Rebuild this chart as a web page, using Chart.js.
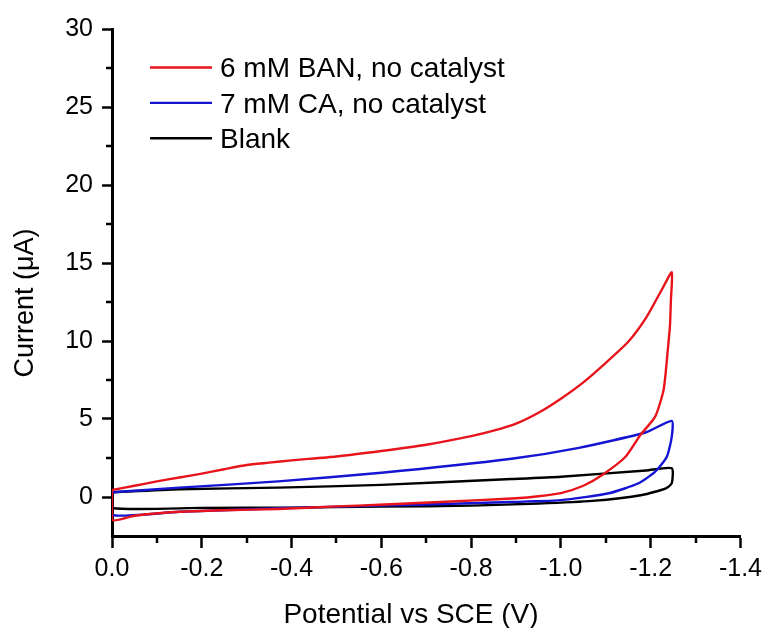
<!DOCTYPE html>
<html><head><meta charset="utf-8">
<script src="https://cdn.jsdelivr.net/npm/chart.js@4"></script>
<style>html,body{margin:0;padding:0;background:#fff}canvas{display:block}</style>
</head><body>
<canvas id="c" width="768" height="628"></canvas>
<script>
// ---- data ----
const seriesNames = ['6 mM BAN, no catalyst', '7 mM CA, no catalyst', 'Blank'];
const seriesColors = ['#e8141c', '#1414d2', '#000000'];

const banX = [0, -0.05, -0.1, -0.15, -0.2, -0.25, -0.3, -0.35, -0.4, -0.5, -0.6, -0.7, -0.8, -0.85, -0.9, -0.95, -1.0, -1.05, -1.1, -1.15, -1.19, -1.225, -1.247,
              -1.245, -1.243, -1.238, -1.229, -1.21, -1.177, -1.144, -1.092, -1.05, -1.0, -0.95, -0.9, -0.818, -0.67, -0.596, -0.5, -0.37, -0.25, -0.15, -0.05, 0, 0];
const banY = [0.45, 0.72, 1.0, 1.25, 1.5, 1.78, 2.05, 2.2, 2.35, 2.6, 2.95, 3.35, 3.9, 4.25, 4.7, 5.4, 6.3, 7.35, 8.6, 9.95, 11.5, 13.3, 14.4,
              12.6, 11.0, 9.4, 6.9, 5.15, 3.97, 2.58, 1.41, 0.72, 0.25, 0.05, -0.08, -0.2, -0.4, -0.5, -0.6, -0.77, -0.85, -0.95, -1.2, -1.47, 0.45];

const caX = [0, -0.15, -0.37, -0.6, -0.89, -1.04, -1.19, -1.247,
             -1.247, -1.236, -1.21, -1.173, -1.107, -1.0, -0.85, -0.74, -0.6, -0.37, -0.15, 0, 0];
const caY = [0.3, 0.6, 1.0, 1.55, 2.45, 3.15, 4.15, 4.88,
             3.87, 2.58, 1.62, 0.88, 0.24, -0.2, -0.35, -0.45, -0.55, -0.72, -0.95, -1.15, 0.3];

const blankX = [0, -0.15, -0.37, -0.6, -0.89, -1.0, -1.19, -1.247,
                -1.247, -1.234, -1.181, -1.07, -0.95, -0.8, -0.6, -0.4, -0.2, 0, 0];
const blankY = [0.3, 0.5, 0.6, 0.78, 1.15, 1.3, 1.7, 1.84,
                0.88, 0.56, 0.13, -0.25, -0.42, -0.55, -0.62, -0.68, -0.7, -0.7, 0.3];

const xMajorTicks = [0, -0.2, -0.4, -0.6, -0.8, -1.0, -1.2, -1.4];
const xMinorTicks = [-0.1, -0.3, -0.5, -0.7, -0.9, -1.1, -1.3];
const yMajorTicks = [0, 5, 10, 15, 20, 25, 30];
const yMinorTicks = [2.5, 7.5, 12.5, 17.5, 22.5, 27.5];
const xTitle = 'Potential vs SCE (V)';
const yTitle = 'Current (μA)';

// ---- build ----
function pts(xs, ys) { return xs.map((x, i) => ({ x: x, y: ys[i] })); }
const allX = [banX, caX, blankX], allY = [banY, caY, blankY];
const datasets = seriesNames.map((n, i) => ({
  label: n,
  data: pts(allX[i], allY[i]),
  borderColor: seriesColors[i],
  backgroundColor: seriesColors[i],
  borderWidth: 2.4,
  showLine: true,
  pointRadius: 0,
  tension: 0.2,
  fill: false
}));

const FONT = '"Liberation Sans", Arial, sans-serif';

const extras = {
  id: 'extras',
  afterDraw(chart) {
    const ctx = chart.ctx, xs = chart.scales.x, ys = chart.scales.y, ca = chart.chartArea;
    ctx.save();
    ctx.strokeStyle = '#000';
    ctx.lineWidth = 2.5;
    xMinorTicks.forEach(v => {
      const p = Math.round(xs.getPixelForValue(v));
      ctx.beginPath(); ctx.moveTo(p, ca.bottom); ctx.lineTo(p, ca.bottom + 7); ctx.stroke();
    });
    yMinorTicks.forEach(v => {
      const p = Math.round(ys.getPixelForValue(v));
      ctx.beginPath(); ctx.moveTo(ca.left, p); ctx.lineTo(ca.left - 6, p); ctx.stroke();
    });
    // legend
    ctx.font = '28px ' + FONT;
    ctx.textAlign = 'left';
    ctx.textBaseline = 'alphabetic';
    chart.data.datasets.forEach((ds, i) => {
      const y = ca.top + 38.5 + i * 35.4;
      const x0 = ca.left + 38;
      ctx.strokeStyle = ds.borderColor;
      ctx.lineWidth = 2.4;
      ctx.beginPath(); ctx.moveTo(x0, y); ctx.lineTo(x0 + 62, y); ctx.stroke();
      ctx.fillStyle = '#000';
      ctx.fillText(ds.label, x0 + 70, y + 9.6);
    });
    // axis titles
    ctx.fillStyle = '#000';
    ctx.font = '28px ' + FONT;
    ctx.textAlign = 'center';
    ctx.fillText(xTitle, 411, 623);
    ctx.save();
    ctx.translate(33, 303);
    ctx.rotate(-Math.PI / 2);
    ctx.font = '27px ' + FONT;
    ctx.fillText(yTitle, 0, 0);
    ctx.restore();
    ctx.restore();
  }
};

new Chart(document.getElementById('c'), {
  type: 'scatter',
  data: { datasets: datasets },
  plugins: [extras],
  options: {
    responsive: false,
    animation: false,
    layout: { padding: { top: 29, right: 26, left: 0, bottom: 0 } },
    plugins: { legend: { display: false }, tooltip: { enabled: false } },
    scales: {
      x: {
        type: 'linear', min: -1.4, max: 0, reverse: true,
        afterBuildTicks: s => { s.ticks = xMajorTicks.map(v => ({ value: v })); },
        afterFit: s => { s.height = 92; },
        ticks: {
          callback: v => Number(v).toFixed(1),
          font: { family: FONT, size: 25 }, color: '#000', padding: 6,
          maxRotation: 0, autoSkip: false
        },
        grid: { display: true, drawOnChartArea: false, drawTicks: true, tickLength: 12, tickWidth: 2.5, tickColor: '#000' },
        border: { display: true, color: '#000', width: 3 }
      },
      y: {
        type: 'linear', min: -2.5, max: 30,
        afterBuildTicks: s => { s.ticks = yMajorTicks.map(v => ({ value: v })); },
        afterFit: s => { s.width = 112; },
        ticks: {
          callback: v => String(v),
          font: { family: FONT, size: 25 }, color: '#000', padding: 9,
          autoSkip: false
        },
        grid: { display: true, drawOnChartArea: false, drawTicks: true, tickLength: 10, tickWidth: 2.5, tickColor: '#000' },
        border: { display: true, color: '#000', width: 3 }
      }
    }
  }
});
</script>
</body></html>
